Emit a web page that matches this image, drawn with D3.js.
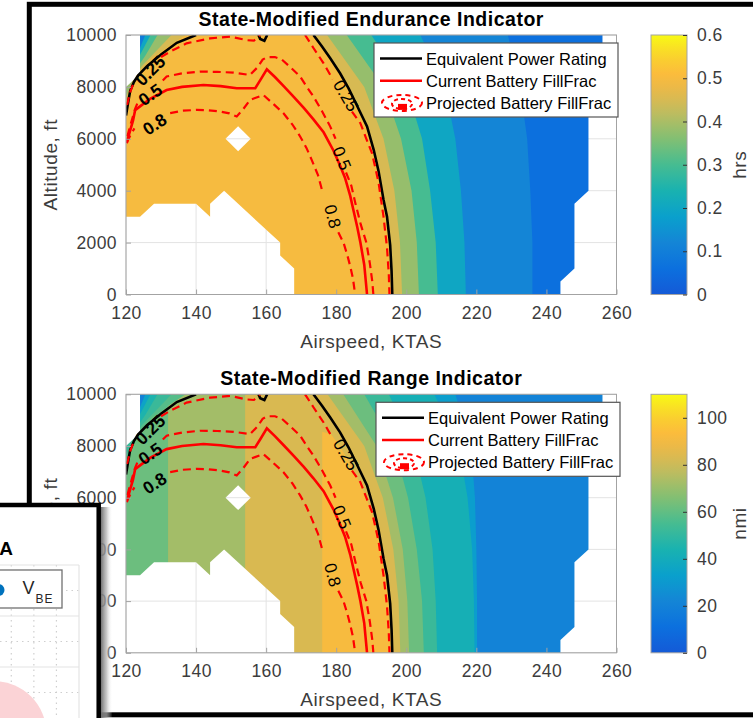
<!DOCTYPE html>
<html>
<head>
<meta charset="utf-8">
<script src="https://cdn.jsdelivr.net/npm/d3@7"></script>
<style>
  body { margin: 0; background: #fff; }
  svg { display: block; }
  text { font-family: "Liberation Sans", Arial, sans-serif; }
</style>
</head>
<body>
<svg id="fig" width="753" height="718"></svg>
<script>
// ---------- data ----------
const speedTicks = [120, 140, 160, 180, 200, 220, 240, 260];
const altTicks = [0, 2000, 4000, 6000, 8000, 10000];
const enduranceTicks = [0, 0.1, 0.2, 0.3, 0.4, 0.5, 0.6];
const rangeTicks = [0, 20, 40, 60, 80, 100];

// altitudes at which band edges are sampled
const bandAlts = [0, 2000, 4000, 6000, 8000, 10000];

// endurance (hrs): base level inside, then bands to the right of each edge
const enduranceBase = 0.5;
const enduranceEdges = [
  [196.0, 195.3, 193.3, 189.8, 183.8, 173.5],
  [198.8, 198.2, 196.6, 193.5, 188.0, 177.4],
  [203.6, 203.0, 201.5, 198.5, 193.5, 183.0],
  [209.0, 208.4, 206.8, 204.5, 200.0, 190.0],
  [217.0, 216.6, 215.6, 214.0, 211.0, 204.0],
  [236.0, 236.0, 235.4, 234.5, 232.5, 229.0]
];
const enduranceEdgeValues = [0.45, 0.38, 0.30, 0.20, 0.12, 0.06];

// range (nmi)
const rangeBase = 62;
const rangeColumns = [
  [132, 132, 132, 132, 132, 132],
  [154, 154, 154, 154, 154, 154]
];
const rangeColumnValues = [72, 83];
const rangeCore = [[176, 0], [176, 8550], [178.5, 8450], [181, 8000], [184, 7300], [187, 6500],
  [190, 5500], [192.5, 4300], [194.5, 2800], [195.5, 1200], [195.8, 0]];
const rangeCoreValue = 92;
const rangeEdges = [
  [196.0, 195.3, 193.3, 189.8, 183.8, 173.5],
  [198.3, 197.8, 196.3, 193.3, 188.0, 177.5],
  [200.8, 200.3, 199.0, 196.2, 191.5, 182.0],
  [205.0, 204.5, 203.0, 200.5, 196.5, 188.0],
  [208.8, 208.4, 207.5, 205.5, 202.0, 195.0],
  [219.5, 219.3, 218.8, 217.5, 215.0, 208.0],
  [220.2, 220.2, 220.0, 219.6, 218.5, 214.0]
];
const rangeEdgeValues = [83, 72, 62, 52, 42, 32, 21];

// top-left corner bands (outside the power-rating line)
const cornerEdges = [
  [[120, 7200], [121.5, 8000], [124, 8600], [127.5, 9100], [132, 9550], [137, 10000]],
  [[120, 7600], [122, 8300], [124.5, 8800], [128, 9300], [133, 10000]],
  [[120, 8000], [122.5, 8600], [125.5, 9200], [129, 10000]],
  [[120, 8400], [123.5, 9100], [127, 10000]],
  [[121, 9000], [124, 9500], [125.5, 10000]]
];
const enduranceCornerValues = [0.45, 0.38, 0.30, 0.20, 0.09];
const rangeCornerValues = [58, 52, 45, 35, 20];

// no-data holes
const holeLowSpeed = [[118, -200], [118, 3000], [124, 3000], [128, 3500], [140, 3500], [144, 3000],
  [144, 3500], [148, 4000], [164, 2000], [164, 1500], [168, 1000], [168, -200]];
const holeTopLeft = [[118, 10200], [124, 10200], [124, 8500], [120, 8000], [118, 8000]];
const holeDiamond = [[148.4, 6000], [152, 6480], [155.6, 6000], [152, 5520]];
const holeHighSpeed = [[256, 10200], [256, 9000], [252, 8500], [252, 4000], [248, 3500], [248, 1000],
  [244, 500], [244, -200], [265, -200], [265, 10200]];

// contour lines (airspeed KTAS, altitude ft)
const powerRatingLine = [
  [[120, 6900], [120.6, 7400], [121.2, 7850], [122.3, 8200], [123.5, 8450], [126, 8800], [130, 9250],
   [134.5, 9700], [140, 10000]],
  [[157.8, 10000], [158.3, 9850], [159.5, 9780], [160.3, 10000]],
  [[173.5, 10000], [176, 9550], [178.3, 9100], [181.1, 8526], [183.5, 7950], [185.5, 7400], [188.8, 6474],
   [190.7, 5577], [192.1, 4744], [193.5, 3650], [194.5, 3000], [195.4, 1900], [195.8, 900], [196, 0]]
];
const currentFillLine = [
  [[120.2, 5830], [120.7, 6090], [122, 6700], [122.6, 7100], [124, 7250], [127, 7550], [131.6, 7880],
   [136, 8000], [142.1, 8075], [147, 8030], [151.6, 7950], [156.9, 7950], [158.5, 8300], [160.2, 8680],
   [162.5, 8380], [165, 8030], [168, 7600], [170.8, 7180], [173.5, 6750], [176.4, 6250], [179.2, 5550],
   [181, 5000], [182.5, 4500], [184, 3800], [185, 3200], [186, 2600], [186.9, 2000], [188, 1150], [188.8, 0]]
];
const projectedFillLines = [
  // 0.25
  [[120.3, 7300], [121.2, 7800], [122.3, 8200]],
  [[130, 9150], [132.6, 9360], [137.3, 9680], [144, 9870], [149.7, 9940], [154.5, 9800], [156.5, 9780], [158.3, 10000]],
  [[171.1, 10000], [173.5, 9500], [176.4, 8910], [179, 8300]],
  [[184.5, 7050], [186.9, 6600], [188.6, 6000], [190.2, 5450], [191.3, 4800], [192.1, 4300], [193.5, 3000],
   [194.5, 1800], [195, 800], [195.2, 0]],
  // 0.5
  [[120.4, 6100], [121.4, 6600], [122.6, 7150], [123.5, 7450]],
  [[130.5, 8250], [131.6, 8400], [136, 8520], [141.1, 8590], [146, 8580], [150.7, 8550], [155.4, 8460],
   [157.5, 8750], [159, 9050], [160.3, 9150], [162.5, 9150], [164.5, 9050], [167, 8750], [169.7, 8400],
   [171.6, 8000], [173.5, 7630], [176, 7050], [178.3, 6470], [179.8, 6000]],
  [[182.8, 4700], [184.3, 4200], [185.5, 3500], [187, 2700], [188.6, 2000], [189.6, 1200], [190.3, 500], [190.6, 0]],
  // 0.8
  [[120.2, 5850], [121.3, 6150], [122.4, 6400]],
  [[132.6, 6990], [136, 7080], [140.2, 7115], [143.5, 7100], [146.9, 7050], [149.5, 6980], [151.6, 6860],
   [153.5, 7150], [155.4, 7500], [159.2, 7690], [162, 7350], [164.9, 6990], [167.5, 6550], [169.7, 6090],
   [171.5, 5650], [173, 5190], [174.8, 4600], [176.2, 3900]],
  [[180.6, 2400], [182.1, 1990], [183.2, 1500], [184, 1090], [184.8, 600], [185.4, 0]]
];
const contourLabels = [
  { text: "0.25", at: [126.9, 8630], angle: -45, heavy: true },
  { text: "0.5", at: [126.9, 7700], angle: -35, heavy: true },
  { text: "0.8", at: [128.2, 6560], angle: -33, heavy: true },
  { text: "0.25", at: [182.8, 7665], angle: 60, heavy: false },
  { text: "0.5", at: [181.6, 5250], angle: 68, heavy: false },
  { text: "0.8", at: [179.0, 3010], angle: 75, heavy: false }
];
const legendNames = ["Equivalent Power Rating", "Current Battery FillFrac", "Projected Battery FillFrac"];

// colormap stops (fraction of colour axis -> colour)
const cmapStops = [
  [0.00, "rgb(20,90,215)"], [0.10, "rgb(12,112,222)"], [0.20, "rgb(20,133,214)"],
  [0.30, "rgb(10,160,204)"], [0.40, "rgb(25,178,176)"], [0.50, "rgb(70,188,145)"],
  [0.60, "rgb(130,191,115)"], [0.70, "rgb(190,188,95)"], [0.78, "rgb(230,184,75)"],
  [0.85, "rgb(251,188,60)"], [0.92, "rgb(250,210,45)"], [1.00, "rgb(248,250,20)"]
];

// ---------- drawing ----------
const svg = d3.select("#fig");
const defs = svg.append("defs");
const cmap = d3.scaleLinear()
  .domain(cmapStops.map(d => d[0]))
  .range(cmapStops.map(d => d[1]))
  .interpolate(d3.interpolateRgb)
  .clamp(true);

const axisGrey = "#a3a3a3";
const textGrey = "#3c3c3c";
const fontFam = "Liberation Sans, Arial, sans-serif";

function drawPanel(cfg) {
  const g = svg.append("g");
  const x = d3.scaleLinear().domain([120, 260]).range([126, 616.5]);
  const y = d3.scaleLinear().domain([0, 10000]).range([cfg.bottom, cfg.top]);
  const cT = d3.scaleLinear().domain(cfg.cDomain).range([0, 1]);
  const color = v => cmap(cT(v));
  const line = d3.line().x(d => x(d[0])).y(d => y(d[1]));
  const [x0, x1] = x.domain();

  // clip + holes
  defs.append("clipPath").attr("id", "clip" + cfg.id)
    .append("rect").attr("x", x.range()[0]).attr("y", cfg.top)
    .attr("width", x.range()[1] - x.range()[0]).attr("height", cfg.bottom - cfg.top);
  const m = defs.append("mask").attr("id", "holes" + cfg.id).attr("maskUnits", "userSpaceOnUse");
  m.append("rect").attr("x", 0).attr("y", 0).attr("width", 753).attr("height", 718).attr("fill", "#fff");
  [holeLowSpeed, holeTopLeft, holeDiamond, holeHighSpeed].forEach(h =>
    m.append("path").attr("d", line(h) + "Z").attr("fill", "#000"));

  // grid (only visible through the holes)
  const grid = g.append("g").attr("stroke", "#e3e3e3").attr("stroke-width", 1);
  speedTicks.forEach(t => grid.append("line").attr("x1", x(t)).attr("x2", x(t))
    .attr("y1", cfg.top).attr("y2", cfg.bottom));
  altTicks.forEach(t => grid.append("line").attr("x1", x.range()[0]).attr("x2", x.range()[1])
    .attr("y1", y(t)).attr("y2", y(t)));

  // filled contours
  const fill = g.append("g").attr("clip-path", `url(#clip${cfg.id})`)
    .append("g").attr("mask", `url(#holes${cfg.id})`);
  fill.append("rect").attr("x", x(x0)).attr("y", cfg.top)
    .attr("width", x(x1) - x(x0)).attr("height", cfg.bottom - cfg.top)
    .attr("fill", color(cfg.base));
  const edgeArea = edge => line(bandAlts.map((a, i) => [edge[i], a])
    .concat([[x1 + 5, 10000], [x1 + 5, 0]])) + "Z";
  (cfg.columns || []).forEach((e, i) =>
    fill.append("path").attr("d", edgeArea(e)).attr("fill", color(cfg.columnValues[i])));
  if (cfg.core) fill.append("path").attr("d", line(cfg.core) + "Z").attr("fill", color(cfg.coreValue));
  cfg.edges.forEach((e, i) =>
    fill.append("path").attr("d", edgeArea(e)).attr("fill", color(cfg.edgeValues[i])));
  cornerEdges.forEach((e, i) =>
    fill.append("path").attr("d", line(e.concat([[x0 - 2, 10000]])) + "Z")
      .attr("fill", color(cfg.cornerValues[i])));

  // contour lines
  const lines = g.append("g").attr("clip-path", `url(#clip${cfg.id})`).attr("fill", "none");
  powerRatingLine.forEach(s => lines.append("path").attr("d", line(s))
    .attr("stroke", "#000").attr("stroke-width", 2.6));
  projectedFillLines.forEach(s => lines.append("path").attr("d", line(s))
    .attr("stroke", "#ff0000").attr("stroke-width", 2.2).attr("stroke-dasharray", "8,5"));
  currentFillLine.forEach(s => lines.append("path").attr("d", line(s))
    .attr("stroke", "#ff0000").attr("stroke-width", 2.6));
  contourLabels.forEach(l => g.append("text")
    .attr("transform", `translate(${x(l.at[0])},${y(l.at[1])}) rotate(${l.angle})`)
    .attr("text-anchor", "middle").attr("dy", "0.35em")
    .attr("font-size", l.heavy ? 17.5 : 17).attr("font-weight", l.heavy ? "bold" : "normal")
    .attr("fill", "#000").text(l.text));

  // axes box + ticks
  g.append("rect").attr("x", x.range()[0]).attr("y", cfg.top)
    .attr("width", x.range()[1] - x.range()[0]).attr("height", cfg.bottom - cfg.top)
    .attr("fill", "none").attr("stroke", axisGrey).attr("stroke-width", 1);
  g.append("g").attr("transform", `translate(0,${cfg.bottom})`)
    .call(d3.axisBottom(x).tickValues(speedTicks).tickSize(-5).tickPadding(12))
    .call(a => a.select(".domain").remove())
    .call(a => a.selectAll("line").attr("stroke", axisGrey))
    .call(a => a.selectAll("text").attr("font-size", 17.5).attr("letter-spacing", 0.4)
      .attr("fill", textGrey).attr("font-family", fontFam));
  g.append("g").attr("transform", `translate(${x.range()[0]},0)`)
    .call(d3.axisLeft(y).tickValues(altTicks).tickSize(-5).tickPadding(9).tickFormat(d3.format("d")))
    .call(a => a.select(".domain").remove())
    .call(a => a.selectAll("line").attr("stroke", axisGrey))
    .call(a => a.selectAll("text").attr("font-size", 17.5).attr("letter-spacing", 0.4)
      .attr("fill", textGrey).attr("font-family", fontFam));

  // titles and labels
  const cx = (x.range()[0] + x.range()[1]) / 2;
  g.append("text").attr("x", cx).attr("y", cfg.top - 9).attr("text-anchor", "middle")
    .attr("font-size", 19.5).attr("letter-spacing", 0.5).attr("font-weight", "bold")
    .attr("fill", "#000").text(cfg.title);
  g.append("text").attr("x", cx).attr("y", cfg.bottom + 53).attr("text-anchor", "middle")
    .attr("font-size", 19).attr("letter-spacing", 0.6).attr("fill", textGrey).text("Airspeed, KTAS");
  g.append("text").attr("transform", `translate(57,${(cfg.top + cfg.bottom) / 2}) rotate(-90)`)
    .attr("text-anchor", "middle").attr("font-size", 19).attr("letter-spacing", 0.6)
    .attr("fill", textGrey).text("Altitude, ft");

  // legend
  const lx = 374 + cfg.legendShift, ly = cfg.top + 8, lw = 244, lh = 74;
  const lg = g.append("g");
  lg.append("rect").attr("x", lx).attr("y", ly).attr("width", lw).attr("height", lh)
    .attr("fill", "#fff").attr("stroke", "#555").attr("stroke-width", 1.2);
  const rowY = i => ly + 15.5 + i * 22.2;
  lg.append("line").attr("x1", lx + 6).attr("x2", lx + 48).attr("y1", rowY(0)).attr("y2", rowY(0))
    .attr("stroke", "#000").attr("stroke-width", 2.6);
  lg.append("line").attr("x1", lx + 6).attr("x2", lx + 48).attr("y1", rowY(1)).attr("y2", rowY(1))
    .attr("stroke", "#ff0000").attr("stroke-width", 2.6);
  const ic = lg.append("g").attr("fill", "none").attr("stroke", "#ff0000").attr("stroke-width", 2);
  ic.append("ellipse").attr("cx", lx + 28).attr("cy", rowY(2)).attr("rx", 20).attr("ry", 8)
    .attr("stroke-dasharray", "5,4");
  ic.append("ellipse").attr("cx", lx + 28).attr("cy", rowY(2) + 1).attr("rx", 10).attr("ry", 5)
    .attr("stroke-dasharray", "4,3");
  lg.append("rect").attr("x", lx + 24).attr("y", rowY(2) + 1).attr("width", 9).attr("height", 6)
    .attr("fill", "#ff0000");
  legendNames.forEach((n, i) => lg.append("text").attr("x", lx + 52).attr("y", rowY(i) + 6)
    .attr("font-size", 16.5).attr("fill", "#000").text(n));

  // colorbar
  const cb = d3.scaleLinear().domain([cfg.cDomain[0], cfg.cDomain[1]]).range([cfg.bottom, cfg.top]);
  const gid = "cbgrad" + cfg.id;
  const grad = defs.append("linearGradient").attr("id", gid)
    .attr("x1", 0).attr("y1", 1).attr("x2", 0).attr("y2", 0);
  d3.range(0, 1.0001, 0.05).forEach(t => grad.append("stop")
    .attr("offset", t).attr("stop-color", cmap(t)));
  g.append("rect").attr("x", 651).attr("y", cfg.top).attr("width", 36)
    .attr("height", cfg.bottom - cfg.top).attr("fill", `url(#${gid})`)
    .attr("stroke", axisGrey).attr("stroke-width", 1);
  g.append("g").attr("transform", "translate(687,0)")
    .call(d3.axisRight(cb).tickValues(cfg.cTicks).tickSize(-4).tickPadding(10)
      .tickFormat(cfg.cFormat))
    .call(a => a.select(".domain").remove())
    .call(a => a.selectAll("line").attr("stroke", "#333"))
    .call(a => a.selectAll("text").attr("font-size", 17.5).attr("letter-spacing", 0.4)
      .attr("fill", textGrey).attr("font-family", fontFam));
  g.append("text").attr("transform", `translate(746,${(cfg.top + cfg.bottom) / 2}) rotate(-90)`)
    .attr("text-anchor", "middle").attr("font-size", 19).attr("letter-spacing", 0.6)
    .attr("fill", textGrey).text(cfg.unit);
}

drawPanel({
  id: 1, top: 35, bottom: 294.5, title: "State-Modified Endurance Indicator",
  cDomain: [0, 0.6], cTicks: enduranceTicks, cFormat: d3.format(".1~f"), unit: "hrs",
  base: enduranceBase, edges: enduranceEdges, edgeValues: enduranceEdgeValues,
  cornerValues: enduranceCornerValues, legendShift: 0
});
drawPanel({
  id: 2, top: 394.3, bottom: 652.8, title: "State-Modified Range Indicator",
  cDomain: [0, 110], cTicks: rangeTicks, cFormat: d3.format("d"), unit: "nmi",
  base: rangeBase, columns: rangeColumns, columnValues: rangeColumnValues,
  core: rangeCore, coreValue: rangeCoreValue,
  edges: rangeEdges, edgeValues: rangeEdgeValues,
  cornerValues: rangeCornerValues, legendShift: 2
});

// outer window frame
svg.append("rect").attr("x", 29.3).attr("y", 4.3).attr("width", 800).attr("height", 710.5)
  .attr("fill", "none").attr("stroke", "#000").attr("stroke-width", 5);

// ---------- overlapping window at bottom-left ----------
const insetX = d3.scaleLinear().domain([-3.5, 0]).range([0, 79]);
const insetY = d3.scaleLinear().domain([0, 3]).range([565, 718]);
const insetMajorY = [0, 1, 2];
const insetMinorY = [0.5, 1.5, 2.5];
const insetMinorX = [-3, -2, -1];

const shade = defs.append("linearGradient").attr("id", "shade").attr("x1", 0).attr("x2", 1).attr("y1", 0).attr("y2", 0);
shade.append("stop").attr("offset", 0).attr("stop-color", "#6a6a6a").attr("stop-opacity", 1);
shade.append("stop").attr("offset", 0.5).attr("stop-color", "#b0b0b0").attr("stop-opacity", 0.7);
shade.append("stop").attr("offset", 1).attr("stop-color", "#ffffff").attr("stop-opacity", 0);
svg.append("rect").attr("x", 100.5).attr("y", 507).attr("width", 12).attr("height", 215).attr("fill", "url(#shade)");

const inset = svg.append("g");
inset.append("rect").attr("x", -10).attr("y", 505).attr("width", 108.7).attr("height", 230)
  .attr("fill", "#fff");
const ig = inset.append("g").attr("stroke", "#cfcfcf").attr("stroke-width", 1.2)
  .attr("stroke-dasharray", "1.5,4");
insetMinorY.forEach(t => ig.append("line").attr("x1", 0).attr("x2", insetX(0))
  .attr("y1", insetY(t)).attr("y2", insetY(t)));
insetMinorX.forEach(t => ig.append("line").attr("x1", insetX(t)).attr("x2", insetX(t))
  .attr("y1", insetY(0)).attr("y2", 718));
const im = inset.append("g").attr("stroke", "#e4e4e4").attr("stroke-width", 1.2);
insetMajorY.forEach(t => im.append("line").attr("x1", 0).attr("x2", insetX(0))
  .attr("y1", insetY(t)).attr("y2", insetY(t)));
im.append("line").attr("x1", insetX(0)).attr("x2", insetX(0)).attr("y1", insetY(0)).attr("y2", 718);
inset.append("circle").attr("cx", insetX(-3.75)).attr("cy", insetY(3.3)).attr("r", 52)
  .attr("fill", "#fbd3d6");
inset.append("rect").attr("x", -6).attr("y", 570).attr("width", 68).attr("height", 38)
  .attr("fill", "#fff").attr("stroke", "#707070").attr("stroke-width", 1.3);
inset.append("circle").attr("cx", -1.5).attr("cy", 590).attr("r", 6).attr("fill", "#0072bd");
inset.append("text").attr("x", 22.5).attr("y", 594).attr("font-size", 18).attr("fill", "#262626").text("V");
inset.append("text").attr("x", 35.5).attr("y", 603).attr("font-size", 12).attr("letter-spacing", 1)
  .attr("fill", "#262626").text("BE");
inset.append("text").attr("x", 13).attr("y", 555).attr("text-anchor", "end").attr("font-size", 19)
  .attr("font-weight", "bold").attr("fill", "#000").text("A");
inset.append("rect").attr("x", -10).attr("y", 505).attr("width", 108.7).attr("height", 230)
  .attr("fill", "none").attr("stroke", "#000").attr("stroke-width", 4.5);
</script>
</body>
</html>
